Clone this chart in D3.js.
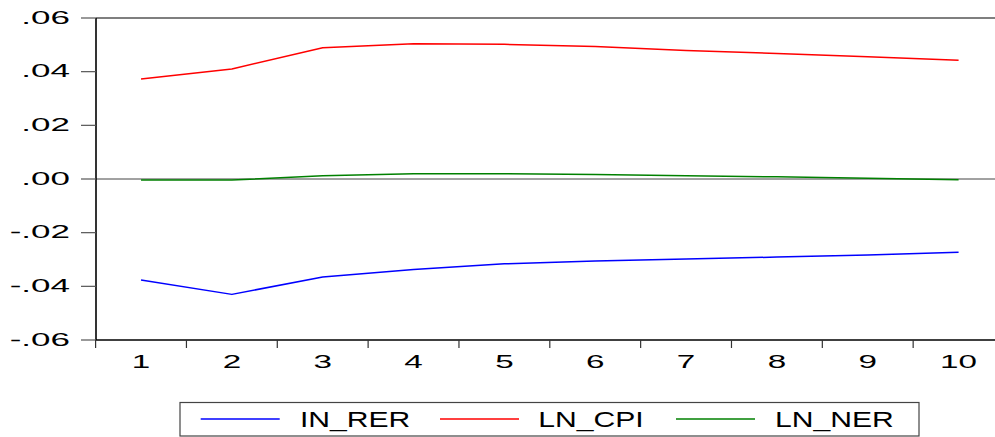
<!DOCTYPE html>
<html>
<head>
<meta charset="utf-8">
<script src="https://cdn.jsdelivr.net/npm/d3@7"></script>
<style>
  html, body { margin: 0; padding: 0; background: #fff; }
  svg { display: block; font-family: "Liberation Sans", Arial, sans-serif; }
</style>
</head>
<body>
<svg id="chart" width="995" height="437"></svg>
<script>
const periods = ["1","2","3","4","5","6","7","8","9","10"];
const yTicks = [0.06, 0.04, 0.02, 0.00, -0.02, -0.04, -0.06];
const yTickLabels = [".06", ".04", ".02", ".00", "-.02", "-.04", "-.06"];
const seriesNames = ["IN_RER", "LN_CPI", "LN_NER"];
const seriesColors = ["#0000ff", "#ff0000", "#008000"];
const inRer = [-0.0376, -0.0430, -0.0365, -0.0337, -0.0316, -0.0306, -0.0298, -0.0291, -0.0283, -0.0273];
const lnCpi = [0.0373, 0.0410, 0.0489, 0.0504, 0.0502, 0.0494, 0.0479, 0.0468, 0.0456, 0.0443];
const lnNer = [-0.0004, -0.0004, 0.0012, 0.0020, 0.0020, 0.0017, 0.0012, 0.0008, 0.0003, -0.0003];
const seriesValues = [inRer, lnCpi, lnNer];

(function () {
const svg = d3.select("#chart");
const pLeft = 96, pRight = 995, pTop = 18, pBottom = 340;

const x = d3.scaleBand().domain(periods).range([95.6, 1004]).padding(0);
const y = d3.scaleLinear().domain([-0.06, 0.06]).range([pBottom, pTop]);
const cx = p => x(p) + x.bandwidth() / 2;

// zero line
svg.append("line")
  .attr("x1", pLeft).attr("x2", pRight)
  .attr("y1", y(0)).attr("y2", y(0))
  .attr("stroke", "#444").attr("stroke-width", 1);

// frame
svg.append("line").attr("x1", pLeft).attr("x2", pRight).attr("y1", pTop).attr("y2", pTop)
  .attr("stroke", "#000").attr("stroke-width", 1.2);
svg.append("line").attr("x1", pLeft).attr("x2", pRight).attr("y1", pBottom).attr("y2", pBottom)
  .attr("stroke", "#000").attr("stroke-width", 1.4);
svg.append("line").attr("x1", pLeft).attr("x2", pLeft).attr("y1", pTop).attr("y2", pBottom)
  .attr("stroke", "#000").attr("stroke-width", 1.6);

// y ticks + labels
const yg = svg.append("g");
yTicks.forEach((t, i) => {
  yg.append("line").attr("x1", 81).attr("x2", pLeft).attr("y1", y(t)).attr("y2", y(t))
    .attr("stroke", "#555").attr("stroke-width", 1.2);
  yg.append("g").attr("transform", `translate(70,${y(t) + 5.5}) scale(2,1)`)
    .append("text").attr("text-anchor", "end").attr("font-size", 17.5).attr("fill", "#000")
    .text(yTickLabels[i]);
});

// x ticks at band boundaries + labels
const xg = svg.append("g");
periods.forEach(p => {
  xg.append("line").attr("x1", x(p)).attr("x2", x(p)).attr("y1", pBottom).attr("y2", 348)
    .attr("stroke", "#333").attr("stroke-width", 1.2);
  xg.append("g").attr("transform", `translate(${cx(p)},368) scale(1.9,1)`)
    .append("text").attr("text-anchor", "middle").attr("font-size", 17.5).attr("fill", "#000")
    .text(p);
});

// series lines
const line = d3.line().x((d, i) => cx(periods[i])).y(d => y(d));
seriesValues.forEach((vals, k) => {
  svg.append("path").datum(vals)
    .attr("d", line)
    .attr("fill", "none")
    .attr("stroke", seriesColors[k])
    .attr("stroke-width", 1.5)
    .attr("stroke-linejoin", "round");
});

// legend
const lg = svg.append("g");
lg.append("rect").attr("x", 180).attr("y", 402.5).attr("width", 739).attr("height", 33.5)
  .attr("fill", "#fff").attr("stroke", "#444").attr("stroke-width", 1.2);
const legX = [200.7, 440, 676];
const legTextX = [300, 538.3, 775];
seriesNames.forEach((n, k) => {
  lg.append("line").attr("x1", legX[k]).attr("x2", legX[k] + 79).attr("y1", 419).attr("y2", 419)
    .attr("stroke", seriesColors[k]).attr("stroke-width", 1.5);
  lg.append("g").attr("transform", `translate(${legTextX[k]},426.7) scale(1.4,1)`)
    .append("text").attr("font-size", 21.5).attr("fill", "#000").text(n);
});
})();
</script>
</body>
</html>
